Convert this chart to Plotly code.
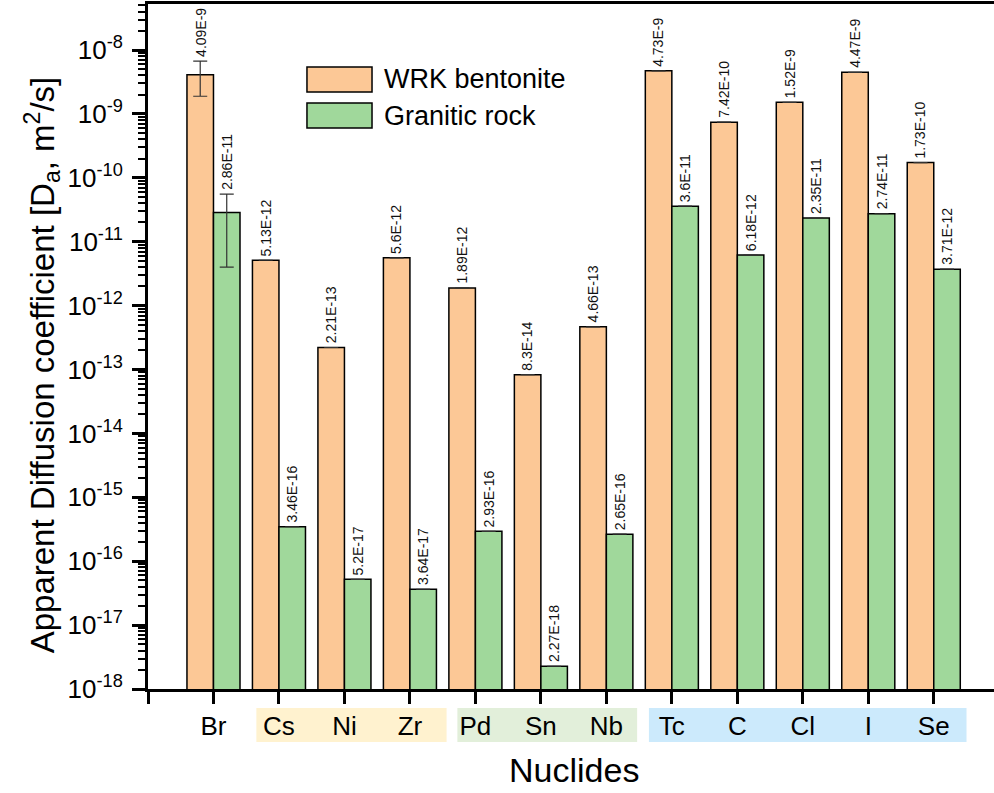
import math
import plotly.graph_objects as go

nuclides = ["Br", "Cs", "Ni", "Zr", "Pd", "Sn", "Nb", "Tc", "C", "Cl", "I", "Se"]
bentonite = [4.09e-9, 5.13e-12, 2.21e-13, 5.6e-12, 1.89e-12, 8.3e-14, 4.66e-13,
             4.73e-9, 7.42e-10, 1.52e-9, 4.47e-9, 1.73e-10]
granite = [2.86e-11, 3.46e-16, 5.2e-17, 3.64e-17, 2.93e-16, 2.27e-18, 2.65e-16,
           3.6e-11, 6.18e-12, 2.35e-11, 2.74e-11, 3.71e-12]
bentonite_labels = ["4.09E-9", "5.13E-12", "2.21E-13", "5.6E-12", "1.89E-12", "8.3E-14",
                    "4.66E-13", "4.73E-9", "7.42E-10", "1.52E-9", "4.47E-9", "1.73E-10"]
granite_labels = ["2.86E-11", "3.46E-16", "5.2E-17", "3.64E-17", "2.93E-16", "2.27E-18",
                  "2.65E-16", "3.6E-11", "6.18E-12", "2.35E-11", "2.74E-11", "3.71E-12"]
# error bars (only Br has them)
bentonite_err_plus = [2.6e-9] + [0] * 11
bentonite_err_minus = [2.2e-9] + [0] * 11
granite_err_plus = [2.7e-11] + [0] * 11
granite_err_minus = [2.46e-11] + [0] * 11
has_err = [True] + [False] * 11

ORANGE = "#fcc896"
GREEN = "#a0d89b"
FONT = "Liberation Sans, Arial, sans-serif"

xs = list(range(len(nuclides)))
bargap = 0.19
half = (1 - bargap) / 4  # offset of each bar centre from the category centre

fig = go.Figure()
fig.add_trace(go.Bar(
    x=xs, y=bentonite, name="WRK bentonite",
    marker=dict(color=ORANGE, line=dict(color="black", width=1.5)),
    error_y=dict(type="data", symmetric=False, array=bentonite_err_plus,
                 arrayminus=bentonite_err_minus, color="#333333", thickness=1.2, width=7),
))
fig.add_trace(go.Bar(
    x=xs, y=granite, name="Granitic rock",
    marker=dict(color=GREEN, line=dict(color="black", width=1.5)),
    error_y=dict(type="data", symmetric=False, array=granite_err_plus,
                 arrayminus=granite_err_minus, color="#333333", thickness=1.2, width=7),
))

annotations = []
for i in xs:
    for vals, plus, labels, off in ((bentonite, bentonite_err_plus, bentonite_labels, -half),
                                    (granite, granite_err_plus, granite_labels, half)):
        top = vals[i] + (plus[i] if has_err[i] else 0)
        annotations.append(dict(
            x=i + off, y=math.log10(top), xref="x", yref="y",
            text=labels[i], textangle=-90, showarrow=False,
            xanchor="center", yanchor="bottom", yshift=2,
            font=dict(family=FONT, size=14, color="#111111"),
        ))

# manual legend and titles
annotations += [
    dict(x=0.2766, y=0.8898, xref="paper", yref="paper", text="WRK bentonite",
         showarrow=False, xanchor="left", yanchor="middle",
         font=dict(family=FONT, size=27, color="black")),
    dict(x=0.2766, y=0.8372, xref="paper", yref="paper", text="Granitic rock",
         showarrow=False, xanchor="left", yanchor="middle",
         font=dict(family=FONT, size=27, color="black")),
    dict(x=-0.1253, y=0.474, xref="paper", yref="paper",
         text="Apparent Diffusion coefficient [D<sub>a</sub>, m<sup>2</sup>/s]",
         textangle=-90, showarrow=False, xanchor="center", yanchor="middle",
         font=dict(family=FONT, size=33, color="black")),
    dict(x=0.5035, y=-0.118, xref="paper", yref="paper", text="Nuclides",
         showarrow=False, xanchor="center", yanchor="middle",
         font=dict(family=FONT, size=34, color="black")),
]

shapes = [
    dict(type="rect", xref="paper", yref="paper", x0=0.1879, x1=0.2648, y0=0.8715, y1=0.9080,
         fillcolor=ORANGE, line=dict(color="black", width=1.5)),
    dict(type="rect", xref="paper", yref="paper", x0=0.1879, x1=0.2648, y0=0.819, y1=0.8555,
         fillcolor=GREEN, line=dict(color="black", width=1.5)),
    # group backgrounds behind the category labels
    dict(type="rect", xref="x", yref="paper", x0=0.655, x1=3.56, y0=-0.0774, y1=-0.0277,
         fillcolor="#fff2cf", line=dict(width=0), layer="below"),
    dict(type="rect", xref="x", yref="paper", x0=3.725, x1=6.47, y0=-0.0774, y1=-0.0277,
         fillcolor="#e2efda", line=dict(width=0), layer="below"),
    dict(type="rect", xref="x", yref="paper", x0=6.65, x1=11.5, y0=-0.0774, y1=-0.0277,
         fillcolor="#cceafc", line=dict(width=0), layer="below"),
]

major = [10.0 ** k for k in range(-18, -7)]
major_text = ["10<sup>%d</sup>" % k for k in range(-18, -7)]
minor = [m * 10.0 ** k for k in range(-18, -7) for m in range(2, 10)]

fig.update_layout(
    width=994, height=793,
    margin=dict(l=148, r=0, t=4, b=104, autoexpand=False),
    plot_bgcolor="white", paper_bgcolor="white",
    barmode="group", bargap=bargap, bargroupgap=0,
    showlegend=False,
    annotations=annotations, shapes=shapes,
    font=dict(family=FONT, color="black"),
    xaxis=dict(
        range=[-1, 11.92], tickmode="array", tickvals=[-1] + xs, ticktext=[""] + nuclides,
        showline=True, linecolor="black", linewidth=3, mirror=True,
        ticks="outside", ticklen=12, tickwidth=3, tickcolor="black",
        showgrid=False, zeroline=False, ticklabelstandoff=0, automargin=False,
        tickfont=dict(family=FONT, size=26, color="black"),
    ),
    yaxis=dict(
        type="log", range=[-18, -7.28], tickmode="array", tickvals=major, ticktext=major_text,
        showline=True, linecolor="black", linewidth=3,
        ticks="outside", ticklen=13, tickwidth=3, tickcolor="black",
        minor=dict(tickmode="array", tickvals=minor, ticks="outside", ticklen=7,
                   tickwidth=2, tickcolor="black", showgrid=False),
        showgrid=False, zeroline=False, ticklabelstandoff=4, automargin=False,
        tickfont=dict(family=FONT, size=26, color="black"),
    ),
)

fig.write_html(
    "out.html",
    config={"displayModeBar": False},
    post_script="document.body.style.margin='0px';document.body.style.overflow='hidden';",
)
